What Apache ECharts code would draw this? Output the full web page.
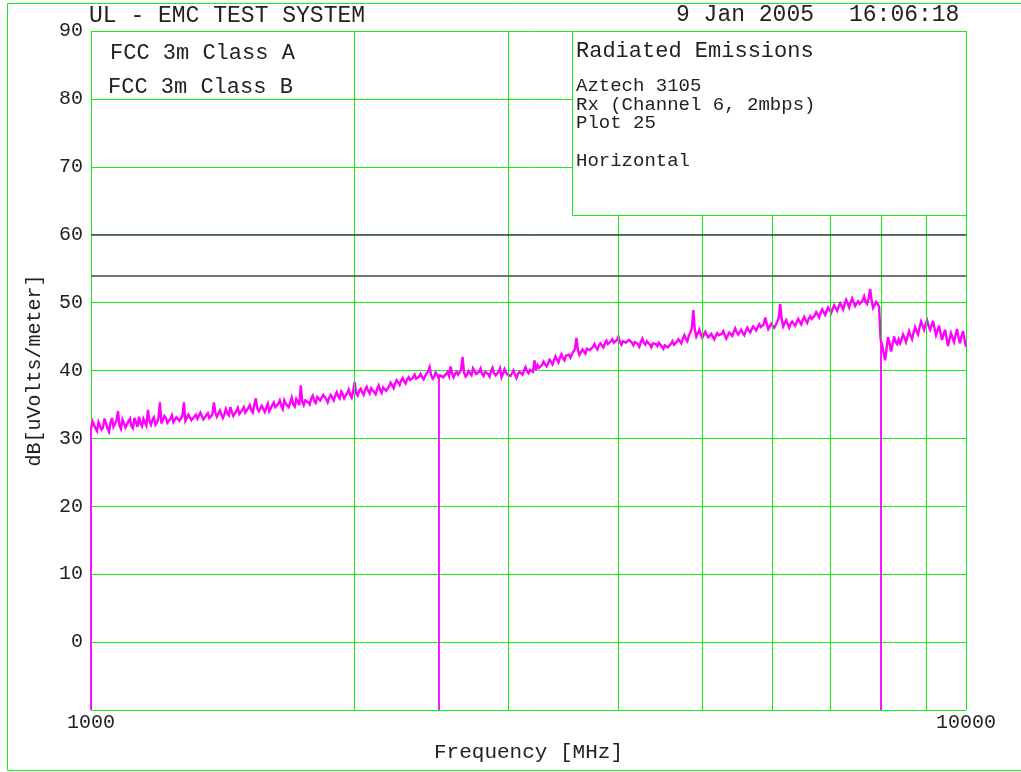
<!DOCTYPE html>
<html>
<head>
<meta charset="utf-8">
<script src="https://cdn.jsdelivr.net/npm/echarts@6/dist/echarts.min.js"></script>
<style>
  html,body{margin:0;padding:0;background:#fff;}
  #chart{width:1021px;height:772px;}
</style>
</head>
<body>
<div id="chart"></div>
<script>
// ---- data ----
const sweepStartMHz = 1000;
const sweepStopMHz = 10000;
const floorDb = -10;                    // bottom of scale (trace drops here at band restarts)
const bandRestartsMHz = [1000, 2500, 8000];
const limitNames = ['FCC 3m Class A', 'FCC 3m Class B'];
const limitDb = [60, 54];
const minorGridMHz = [2000, 3000, 4000, 5000, 6000, 7000, 8000, 9000];
const yTicks = [-10, 0, 10, 20, 30, 40, 50, 60, 70, 80, 90];
// measured trace, dB[uV/m], at log-spaced sweep points 1000..10000 MHz
const traceDb = [
  31.4, 32.3, 31.1, 32.6, 31.6, 32.2, 31.0, 33.0, 31.5, 34.0,
  31.4, 32.6, 31.7, 32.9, 31.5, 32.4, 33.2, 31.8, 32.7, 34.2,
  32.0, 33.1, 32.3, 35.3, 32.4, 33.0, 32.1, 33.4, 32.5, 33.2,
  32.4, 35.3, 32.7, 33.6, 32.5, 33.5, 32.8, 34.0, 32.9, 33.7,
  33.0, 35.3, 33.2, 34.1, 33.0, 34.3, 33.4, 33.9, 33.1, 34.5,
  33.5, 34.6, 33.7, 34.9, 33.8, 35.9, 34.0, 34.8, 33.9, 35.1,
  34.2, 35.3, 34.4, 35.6, 34.3, 35.1, 34.6, 36.0, 34.7, 35.4,
  37.8, 34.9, 35.8, 35.0, 36.3, 35.2, 35.9, 35.4, 36.6, 35.3,
  36.4, 35.6, 36.8, 35.9, 36.5, 36.1, 37.2, 36.0, 38.3, 36.3,
  37.3, 36.4, 37.6, 36.6, 37.1, 36.5, 37.8, 36.7, 37.4, 36.9,
  38.2, 37.4, 38.6, 37.9, 38.9, 38.1, 39.0, 38.4, 39.4, 38.6,
  39.5, 38.7, 39.6, 40.5, 38.8, 39.7, 38.9, 39.4, 39.0, 39.8,
  40.6, 39.0, 39.8, 39.2, 42.0, 39.1, 39.9, 39.3, 40.1, 39.4,
  40.3, 39.2, 39.9, 39.1, 40.4, 39.3, 39.8, 39.0, 40.2, 39.4,
  39.2, 40.0, 38.9, 39.8, 39.4, 40.5, 39.6, 40.3, 41.5, 40.8,
  40.2, 41.3, 40.6, 41.6, 40.9, 42.1, 41.2, 42.4, 41.5, 42.0,
  41.9, 42.8, 44.8, 42.3, 43.1, 42.5, 43.4, 42.8, 43.9, 43.1,
  44.0, 43.4, 44.4, 43.7, 44.6, 43.9, 45.0, 43.8, 44.5, 44.0,
  44.6, 43.7, 44.3, 43.5, 44.7, 43.8, 44.4, 43.4, 44.2, 43.6,
  44.0, 43.2, 43.9, 43.3, 44.3, 43.7, 44.6, 44.0, 45.2, 44.3,
  45.6, 48.9, 45.0, 46.0, 44.8, 45.7, 44.9, 45.4, 44.6, 45.5,
  45.0, 45.8, 44.7, 45.6, 45.1, 46.2, 45.3, 46.0, 45.2, 46.3,
  45.6, 46.5, 45.9, 46.8, 46.2, 47.8, 46.1, 46.9, 46.3, 47.2,
  49.8, 46.5, 47.4, 46.3, 47.2, 46.6, 47.6, 46.8, 47.9, 47.0,
  48.0, 47.4, 48.6, 47.8, 49.0, 48.2, 49.3, 48.5, 49.6, 48.8,
  49.9, 49.0, 50.4, 49.3, 50.6, 49.5, 50.2, 49.6, 50.9, 49.8,
  52.0, 49.2, 50.1, 49.4, 43.8, 41.5, 44.9, 42.8, 45.0, 43.9,
  44.0, 45.3, 44.2, 45.8, 44.6, 46.4, 45.3, 47.2, 46.0, 47.4,
  46.0, 47.3, 45.2, 46.6, 44.5, 46.0, 43.6, 45.5, 44.2, 46.1,
  44.0, 45.8, 43.5
];
// readings at the sweep points lying midway between those above
const traceDbMid = [
  32.5, 31.5, 32.4, 31.3, 32.9, 31.5, 32.3, 31.7, 32.6, 31.9,
  32.8, 31.6, 32.5, 31.8, 33.0, 31.7, 32.2, 32.9, 31.9, 32.6,
  32.7, 32.0, 33.0, 32.2, 33.3, 32.3, 32.9, 32.4, 33.1, 32.6,
  33.3, 32.6, 33.5, 32.7, 33.2, 32.9, 33.8, 32.8, 33.4, 33.0,
  33.5, 33.8, 33.1, 34.2, 33.5, 33.7, 34.6, 33.3, 34.0, 33.6,
  34.2, 33.8, 34.5, 34.1, 35.0, 34.4, 34.2, 34.7, 34.5, 34.0,
  34.9, 34.6, 35.1, 34.8, 35.6, 34.9, 35.3, 35.0, 35.8, 34.9,
  35.4, 35.6, 35.3, 35.9, 35.5, 36.1, 35.6, 36.4, 35.8, 36.0,
  36.0, 36.3, 36.2, 36.9, 35.9, 36.7, 36.4, 37.0, 36.6, 37.0,
  36.8, 37.2, 37.0, 37.4, 36.8, 37.3, 37.1, 37.5, 37.0, 37.7,
  37.8, 38.1, 38.3, 38.5, 38.4, 38.7, 38.6, 39.0, 38.8, 39.1,
  39.0, 39.2, 39.9, 39.3, 39.1, 39.4, 39.3, 39.0, 39.5, 39.2,
  39.6, 39.5, 39.4, 40.1, 39.7, 39.4, 39.6, 40.3, 39.5, 39.8,
  39.5, 39.8, 39.5, 39.9, 39.6, 39.4, 40.3, 39.5, 39.7, 39.3,
  39.6, 39.4, 39.5, 39.6, 40.0, 39.9, 40.1, 39.8, 40.1, 40.4,
  40.8, 40.9, 41.0, 41.3, 41.5, 41.6, 41.9, 41.8, 42.2, 42.3,
  42.4, 43.2, 43.0, 42.7, 42.9, 43.2, 43.0, 43.5, 43.4, 43.7,
  43.7, 44.0, 43.9, 44.3, 44.1, 44.5, 44.2, 44.3, 44.1, 44.5,
  44.1, 44.2, 43.9, 44.2, 44.1, 44.3, 43.8, 44.0, 43.9, 44.1,
  43.5, 43.7, 43.4, 43.9, 43.8, 44.2, 44.3, 44.7, 44.6, 45.1,
  46.2, 46.0, 45.5, 45.3, 45.3, 45.2, 45.1, 45.0, 45.1, 45.2,
  45.4, 45.2, 45.2, 45.4, 45.7, 45.6, 45.7, 45.5, 45.8, 45.9,
  46.1, 46.2, 46.4, 46.4, 46.8, 46.9, 46.5, 46.6, 46.7, 47.8,
  47.5, 47.0, 46.8, 46.9, 46.9, 47.1, 47.2, 47.4, 47.4, 47.6,
  47.6, 48.1, 48.2, 48.5, 48.6, 48.8, 48.9, 49.1, 49.2, 49.4,
  49.5, 49.8, 49.9, 50.0, 50.0, 49.9, 49.8, 50.3, 50.1, 50.6,
  50.4, 49.6, 49.8, 44.6, 42.6, 43.3, 44.0, 43.9, 44.2, 44.6,
  44.6, 44.8, 45.0, 45.1, 45.6, 45.8, 46.3, 46.6, 46.8, 46.6,
  46.6, 46.2, 45.9, 45.5, 45.3, 44.8, 44.6, 44.8, 45.2, 44.9,
  45.0, 44.6
];
const headerLeft = 'UL - EMC TEST SYSTEM';
const headerDate = '9 Jan 2005';
const headerTime = '16:06:18';
const infoTitle = 'Radiated Emissions';
const infoLines = ['Aztech 3105', 'Rx (Channel 6, 2mbps)', 'Plot 25', '', 'Horizontal'];
const xName = 'Frequency [MHz]';
const yName = 'dB[uVolts/meter]';

// ---- build trace points (interleave the two reading sets) ----
const n = traceDb.length;
const pts = [];
for (let i = 0; i < n; i++) {
  const f0 = sweepStartMHz * Math.pow(sweepStopMHz / sweepStartMHz, i / (n - 1));
  pts.push([f0, traceDb[i]]);
  if (i < traceDbMid.length) {
    const f1 = sweepStartMHz * Math.pow(sweepStopMHz / sweepStartMHz, (i + 0.5) / (n - 1));
    pts.push([f1, traceDbMid[i]]);
  }
}
// band-restart drop lines: from floor up to the last reading before the restart
const dropLines = bandRestartsMHz.map(e => {
  let v = pts[0][1];
  for (const p of pts) { if (p[0] <= e + 1e-6) v = p[1]; else break; }
  return [{coord: [e, floorDb]}, {coord: [e, v]}];
});

const GREEN = '#14f014';
const MAG = '#ff00ff';
const TXT = '#222';
const FONT = 'Liberation Mono';

const chart = echarts.init(document.getElementById('chart'), null, {renderer: 'canvas'});
const L = 91, R = 966, T = 31, B = 710;

const texts = [];
function addText(str, x, y, size, align) {
  texts.push({
    type: 'text', z: 120,
    style: {text: str, x: x, y: y, fill: TXT, font: size + 'px "' + FONT + '"',
      textAlign: align || 'left', textVerticalAlign: 'middle'}
  });
}
addText(headerLeft, 89, 16, 23);
addText(headerDate, 676, 15, 23);
addText(headerTime, 849, 15, 23);
addText(limitNames[0], 110, 53, 22);
addText(limitNames[1], 108, 87, 22);
addText(infoTitle, 576, 51, 22);
infoLines.forEach((s, k) => { if (s) addText(s, 576, 86 + k * 18.7, 19); });

chart.setOption({
  animation: false,
  backgroundColor: '#fff',
  grid: {left: L, right: 1021 - R, top: T, bottom: 772 - B, containLabel: false},
  xAxis: {
    type: 'log', logBase: 10, min: sweepStartMHz, max: sweepStopMHz,
    name: xName, nameLocation: 'middle', nameGap: 32,
    nameTextStyle: {fontFamily: FONT, fontSize: 21, color: TXT},
    axisLine: {show: false}, axisTick: {show: false},
    axisLabel: {fontFamily: FONT, fontSize: 20, color: TXT, margin: 3,
      formatter: v => String(Math.round(v))},
    splitLine: {show: true, lineStyle: {color: GREEN, width: 1}}
  },
  yAxis: {
    type: 'value', min: yTicks[0], max: yTicks[yTicks.length - 1], interval: 10,
    name: yName, nameLocation: 'middle', nameGap: 46, nameRotate: 90,
    nameTextStyle: {fontFamily: FONT, fontSize: 20, color: TXT},
    axisLine: {show: false}, axisTick: {show: false},
    axisLabel: {fontFamily: FONT, fontSize: 20, color: TXT, margin: 8,
      formatter: v => (v < 0 ? '' : String(v))},
    splitLine: {show: true, lineStyle: {color: GREEN, width: 1}}
  },
  graphic: [
    {type: 'rect', z: 100, shape: {x: 7.5, y: 3.5, width: 1040, height: 767},
      style: {fill: null, stroke: GREEN, lineWidth: 1}},
    {type: 'rect', z: 110, shape: {x: 572.5, y: T + 0.5, width: R - 572, height: 215 - T},
      style: {fill: '#fff', stroke: GREEN, lineWidth: 1}}
  ].concat(texts),
  series: [
    {
      type: 'line', data: [], z: 1, silent: true,
      markLine: {
        silent: true, symbol: 'none', animation: false,
        label: {show: false},
        lineStyle: {color: GREEN, type: 'solid', width: 1},
        data: minorGridMHz.map(f => ({xAxis: f}))
      }
    },
    {
      type: 'line', data: [], z: 4, silent: true,
      markLine: {
        silent: true, symbol: 'none', animation: false,
        label: {show: false},
        lineStyle: {color: MAG, type: 'solid', width: 1.8, opacity: 1},
        data: dropLines
      }
    },
    {
      type: 'line', data: pts, z: 3, showSymbol: false, symbol: 'none',
      silent: true, sampling: null,
      lineStyle: {color: MAG, width: 2.4, join: 'miter', miterLimit: 4},
      markLine: {
        silent: true, symbol: 'none', animation: false,
        label: {show: false},
        lineStyle: {color: '#444', type: 'solid', width: 1.5},
        data: limitDb.map(v => ({yAxis: v}))
      }
    }
  ]
});
</script>
</body>
</html>
